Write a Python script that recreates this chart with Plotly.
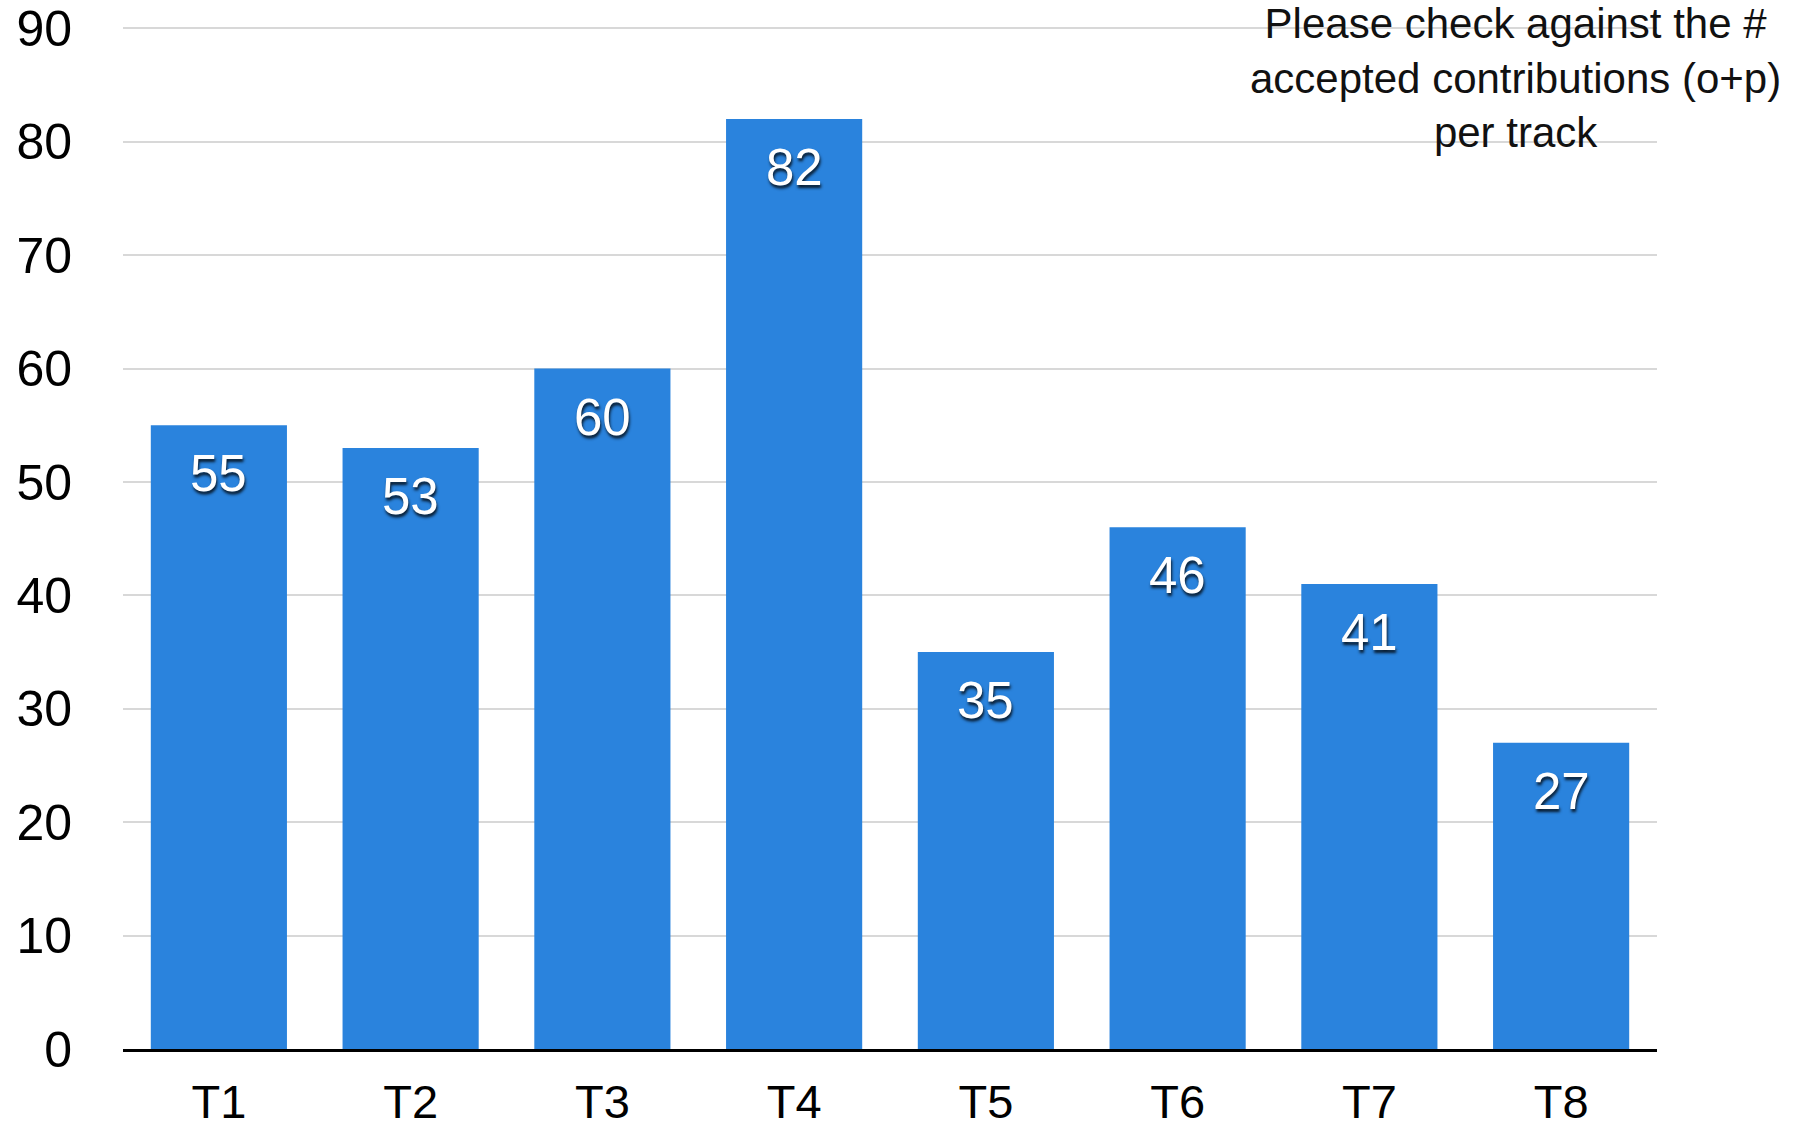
import plotly.graph_objects as go

categories = ["T1", "T2", "T3", "T4", "T5", "T6", "T7", "T8"]
values = [55, 53, 60, 82, 35, 46, 41, 27]
y_ticks = [0, 10, 20, 30, 40, 50, 60, 70, 80, 90]
note_text = "Please check against the #<br>accepted contributions (o+p)<br>per track"

FONT = "Liberation Sans, Arial, Helvetica, sans-serif"

fig = go.Figure()
fig.add_trace(go.Bar(
    x=categories,
    y=values,
    marker=dict(color="#2a83dd", line=dict(width=0)),
    hoverinfo="x+y",
))

for c, v in zip(categories, values):
    fig.add_annotation(
        x=c, y=v, xref="x", yref="y",
        text=str(v), showarrow=False,
        yanchor="top", yshift=-18,
        font=dict(family=FONT, size=51, color="white",
                  shadow="1px 3px 3px rgba(0,0,0,0.8)"),
    )

fig.add_annotation(
    x=0.908, y=1, xref="paper", yref="paper",
    text=note_text, showarrow=False,
    xanchor="center", yanchor="top", yshift=27,
    align="center",
    font=dict(family=FONT, size=42, color="#111111"),
)

fig.update_layout(
    width=1807, height=1131,
    margin=dict(l=123, r=150, t=25, b=82),
    paper_bgcolor="white", plot_bgcolor="white",
    bargap=0.29,
    showlegend=False,
    font=dict(family=FONT, color="black"),
)
fig.update_xaxes(
    type="category",
    automargin=False,
    showline=True, linecolor="black", linewidth=3,
    showgrid=False, ticks="",
    tickfont=dict(size=47, color="black"),
    ticklabelstandoff=10,
)
fig.update_yaxes(
    range=[0, 90.3],
    automargin=False,
    tickvals=y_ticks,
    showgrid=True, gridcolor="#d8d8d8", gridwidth=1.5,
    zeroline=False, showline=False, ticks="",
    tickfont=dict(size=50, color="black"),
    ticklabelstandoff=50,
)

fig.write_html("out.html")
